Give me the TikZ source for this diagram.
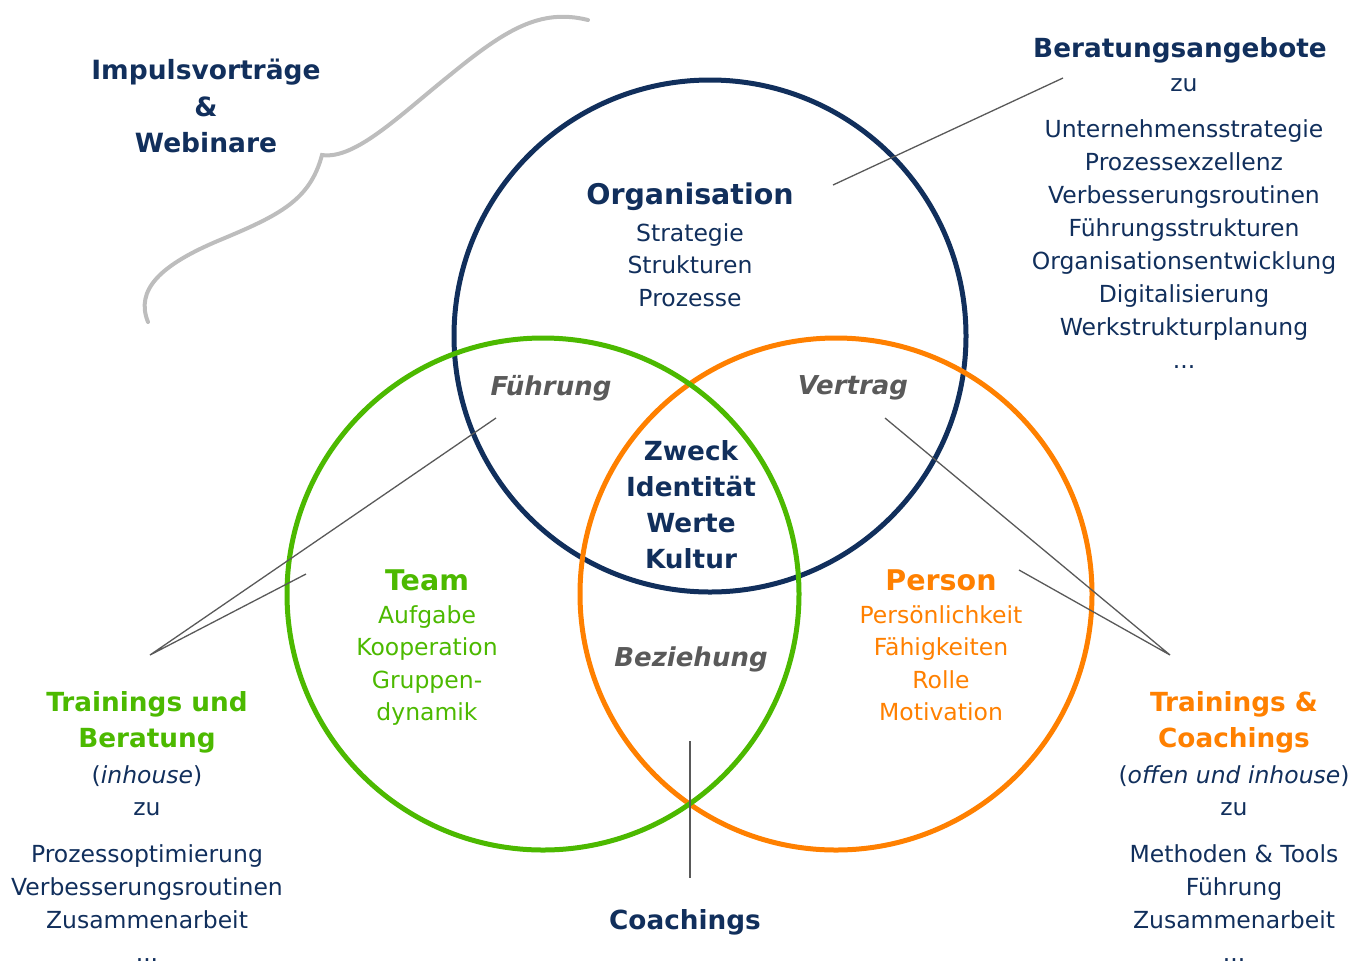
\documentclass[tikz,border=0pt]{standalone}
\usepackage{fontspec}
\setmainfont{DejaVu Sans}
\definecolor{navy}{HTML}{112F5C}
\definecolor{vgreen}{HTML}{4CB900}
\definecolor{vorange}{HTML}{FF8000}
\definecolor{tgray}{HTML}{5A5A5A}
\definecolor{cgray}{HTML}{BDBDBD}
\definecolor{lgray}{HTML}{595959}
\begin{document}
\begin{tikzpicture}[x=1pt,y=-1pt,
  ring/.style={line width=5pt},
  lead/.style={draw=lgray,line width=1.3pt},
  big/.style={font=\fontsize{28.5}{36}\selectfont\bfseries, inner sep=0pt},
  head/.style={font=\fontsize{26.3}{36}\selectfont\bfseries, inner sep=0pt, align=center},
  txt/.style={font=\fontsize{23.5}{32.5}\selectfont, inner sep=0pt, align=center},
  listtxt/.style={font=\fontsize{23.5}{33}\selectfont, inner sep=0pt, align=center, anchor=north},
  ital/.style={font=\fontsize{26}{36}\selectfont\bfseries\itshape, text=tgray, inner sep=0pt}
]
\useasboundingbox (0,0) rectangle (1368,962);
% circles
\draw[ring,navy] (710,336) circle (256);
\draw[ring,vorange] (836,594) circle (256);
\draw[ring,vgreen] (543,594) circle (256);
% grey brace-like curve
\draw[cgray,line width=4pt,line cap=round]
  (588,20) .. controls (540,8) and (505,30) .. (450,75)
  .. controls (400,115) and (355,160) .. (322,155)
  .. controls (310,200) and (280,215) .. (220,240)
  .. controls (160,265) and (135,290) .. (148,322);
% texts in circles
\node[big,text=navy] (org) at (690,197) {Organisation};
\node[txt,text=navy,anchor=north] (orgl) at (690,223) {Strategie\\Strukturen\\Prozesse};
\node[big,text=vgreen] (team) at (427,580) {Team};
\node[txt,text=vgreen,anchor=north] (teaml) at (427,605) {Aufgabe\\Kooperation\\Gruppen-\\dynamik};
\node[big,text=vorange] (pers) at (941,580) {Person};
\node[txt,text=vorange,anchor=north] (persl) at (941,605) {Persönlichkeit\\Fähigkeiten\\Rolle\\Motivation};
\node[head,text=navy,anchor=north] (core) at (691,440) {Zweck\\Identität\\Werte\\Kultur};
\node[ital] (fuehr) at (551,388) {Führung};
\node[ital] (vertr) at (853,388) {Vertrag};
\node[ital] (bez) at (691,659) {Beziehung};
% outside texts
\node[head,text=navy,font=\fontsize{26.5}{36.5}\selectfont\bfseries,anchor=north] (imp) at (206,59) {Impulsvorträge\\\&\\Webinare};
\node[head,text=navy] (berat) at (1180,50) {Beratungsangebote};
\node[txt,text=navy] (bzu) at (1184,85) {zu};
\node[listtxt,text=navy] (blist) at (1184,119) {Unternehmensstrategie\\Prozessexzellenz\\Verbesserungsroutinen\\Führungsstrukturen\\Organisationsentwicklung\\Digitalisierung\\Werkstrukturplanung\\...};
\node[head,text=vgreen,anchor=north] (tub) at (147,691) {Trainings und\\Beratung};
\node[txt,text=navy] (inh) at (147,776) {(\textit{inhouse})};
\node[txt,text=navy] (lzu) at (147,809) {zu};
\node[listtxt,text=navy] (llist) at (147,844) {Prozessoptimierung\\Verbesserungsroutinen\\Zusammenarbeit\\...};
\node[head,text=vorange,anchor=north] (tc) at (1234,691) {Trainings \&\\Coachings};
\node[txt,text=navy] (offen) at (1234,776) {(\textit{offen und inhouse})};
\node[txt,text=navy] (rzu) at (1234,809) {zu};
\node[listtxt,text=navy] (rlist) at (1234,844) {Methoden \& Tools\\Führung\\Zusammenarbeit\\...};
\node[head,text=navy] (coach) at (685,922) {Coachings};
% leader line anchors
\coordinate (bA) at (833,185);
\coordinate (bB) at (1063,78);
\coordinate (lA) at (496,418);
\coordinate (lB) at (306,574);
\coordinate (lT) at (150,655);
\coordinate (rA) at (885,418);
\coordinate (rB) at (1019,570);
\coordinate (rT) at (1170,655);
\coordinate (cA) at (690,741);
\coordinate (cB) at (690,878);
\draw[lead] (bA) -- (bB);
\draw[lead] (lA) -- (lT) -- (lB);
\draw[lead] (rA) -- (rT) -- (rB);
\draw[lead] (cA) -- (cB);
\end{tikzpicture}
\end{document}
